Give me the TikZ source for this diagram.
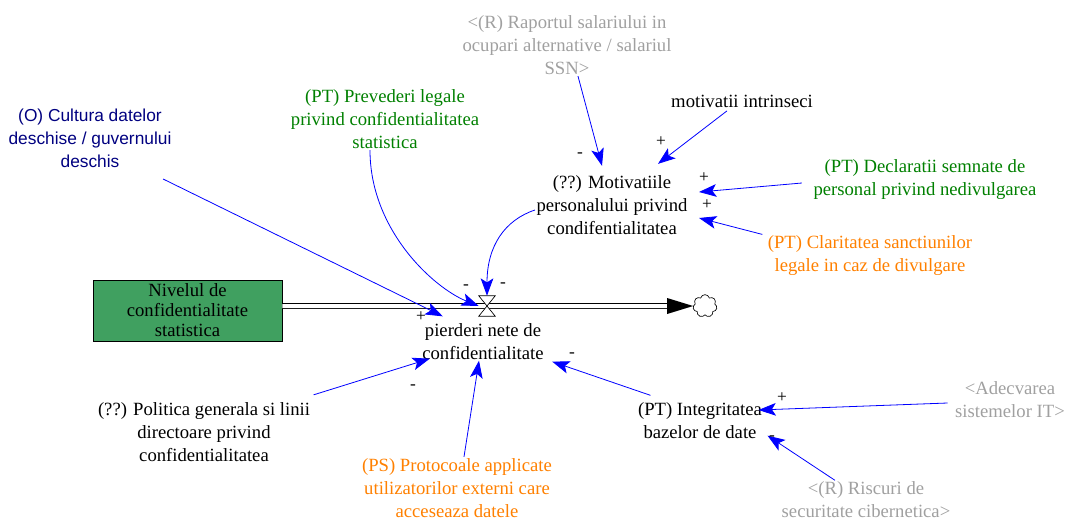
\documentclass[tikz,border=0pt]{standalone}
\usepackage{fontspec}
\setmainfont{Liberation Serif}
\newfontfamily\culturafont{Liberation Sans}
\usetikzlibrary{arrows.meta,calc,shapes.symbols}
\definecolor{vgreen}{RGB}{0,128,0}
\definecolor{vorange}{RGB}{255,128,0}
\definecolor{vgray}{RGB}{160,160,160}
\definecolor{vnavy}{RGB}{0,0,128}
\definecolor{stockgreen}{RGB}{64,160,96}
\tikzset{
  var/.style={align=center, inner sep=1pt, font=\fontsize{14}{17.25}\selectfont},
  link/.style={draw=blue, line width=0.6pt, -{Stealth[length=13pt,width=9.5pt,inset=3pt]}},
  polarity/.style={inner sep=0pt, font=\fontsize{13}{13}\selectfont},
  stockbox/.style={draw=black, fill=stockgreen, line width=0.5pt, align=center,
    minimum width=141.75pt, minimum height=45.75pt, inner sep=1pt,
    font=\fontsize{14}{15}\selectfont},
  pipe/.style={draw=black, line width=0.6pt, double=white, double distance=3pt},
  valvebox/.style={minimum width=12pt, minimum height=15pt, inner sep=0pt},
}
\begin{document}
\begin{tikzpicture}[x=0.75pt, y=-0.75pt]
            \useasboundingbox (0,0) rectangle (1065,521);%

            % Marking stock and flow
            \node [stockbox] (nivel) at (187.5,310.5) {Nivelul de\\confidentialitate\\statistica};%
            \node [valvebox] (valve) at (487,306) {};%
            \node [cloud, cloud puffs=7, draw, line width=0.5pt, minimum width=18pt, minimum height=17pt, inner sep=0pt] (cloud) at (705,306) {};%
            \draw [pipe] (nivel.east |- valve.center) -- ($(cloud.west)+(-22,0)$);%
            \fill ($(cloud.west)+(-26,-8)$) -- (cloud.west) -- ($(cloud.west)+(-26,8)$) -- cycle;%
            \draw [fill=white, line width=0.5pt] (valve.north west) -- (valve.north east) -- (valve.south west) -- (valve.south east) -- cycle;%
            \node [var] (pierderi) at (483,342) {pierderi nete de\\confidentialitate};%

            % Marking variables
            \node [var, text=vnavy, font=\culturafont\fontsize{13}{17.25}\selectfont] (cultura) at (90,138) {(O) Cultura datelor\\deschise / guvernului\\deschis};%
            \node [var, text=vgreen] (prevederi) at (385,119) {(PT) Prevederi legale\\privind confidentialitatea\\statistica};%
            \node [var, text=vgray] (raport) at (567,45) {<(R) Raportul salariului in\\ocupari alternative / salariul\\SSN>};%
            \node [var] (intrinseci) at (742,101) {motivatii intrinseci};%
            \node [var] (motivatiile) at (612,205) {(??) Motivatiile\\personalului privind\\condifentialitatea};%
            \node [var, text=vgreen] (declaratii) at (925,180) {(PT) Declaratii semnate de\\personal privind nedivulgarea};%
            \node [var, text=vorange] (claritatea) at (870,256) {(PT) Claritatea sanctiunilor\\legale in caz de divulgare};%
            \node [var] (politica) at (204,432) {(??) Politica generala si linii\\directoare privind\\confidentialitatea};%
            \node [var, text=vorange] (protocoale) at (457,488) {(PS) Protocoale applicate\\utilizatorilor externi care\\acceseaza datele};%
            \node [var] (integritatea) at (700,421) {(PT) Integritatea\\bazelor de date};%
            \node [var, text=vgray] (adecvarea) at (1010,400) {<Adecvarea\\sistemelor IT>};%
            \node [var, text=vgray] (riscuri) at (866,500) {<(R) Riscuri de\\securitate cibernetica>};%

            % Drawing links
            \draw [link] ($(cultura.south east)+(-10,10)$) -- ($(pierderi.north west)+(22,-6)$);%
            \draw [link] ($(prevederi.south)+(-15,0)$) .. controls +(0,80) and +(-45,-18) .. (valve.west);%
            \draw [link] ($(motivatiile.west)+(0,5)$) .. controls +(-30,10) and +(0,-50) .. (valve.north);%
            \draw [link] ($(raport.south)+(11,0)$) -- ($(motivatiile.north)+(-10,-8)$);%
            \draw [link] ($(intrinseci.south)+(-15,2)$) -- ($(motivatiile.north)+(46,-10)$);%
            \draw [link] ($(declaratii.west)+(-10,3)$) -- ($(motivatiile.east)+(10,-13)$);%
            \draw [link] ($(claritatea.north west)+(-4,0)$) -- ($(motivatiile.east)+(10,13)$);%
            \draw [link] ($(politica.north east)+(2,-6)$) -- ($(pierderi.south west)+(9,-3)$);%
            \draw [link] ($(protocoale.north)+(7,0)$) -- ($(pierderi.south)+(-4,-1)$);%
            \draw [link] ($(integritatea.north west)+(14,-6)$) -- ($(pierderi.south east)+(7,0)$);%
            \draw [link] ($(adecvarea.west)+(-6,3)$) -- ($(integritatea.east)+(-5,-11)$);%
            \draw [link] ($(riscuri.north)+(-31,0)$) -- ($(integritatea.south east)+(4,-5)$);%

            % Marking polarities
            \node [polarity] (p1) at (466,287) {-};%
            \node [polarity] (p2) at (503,285) {-};%
            \node [polarity] (p3) at (421,317) {+};%
            \node [polarity] (p4) at (572,355) {-};%
            \node [polarity] (p5) at (580,155) {-};%
            \node [polarity] (p6) at (661,142) {+};%
            \node [polarity] (p7) at (704,178) {+};%
            \node [polarity] (p8) at (707,205) {+};%
            \node [polarity] (p9) at (413,387) {-};%
            \node [polarity] (p10) at (782,398) {+};%
            \node [polarity] (p11) at (772,438) {-};%
\end{tikzpicture}
\end{document}
